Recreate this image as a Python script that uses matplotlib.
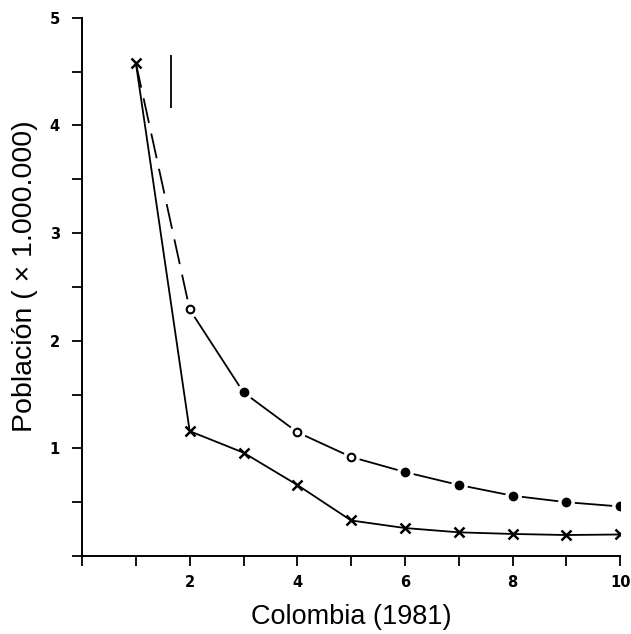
import matplotlib
matplotlib.use("Agg")
import matplotlib.pyplot as plt
from matplotlib.ticker import MultipleLocator

# Rank of the city (1..10) and population in millions
rank = [1, 2, 3, 4, 5, 6, 7, 8, 9, 10]
observed = [4.58, 1.16, 0.96, 0.66, 0.33, 0.26, 0.22, 0.205, 0.195, 0.20]
expected = [4.58, 2.29, 1.52, 1.15, 0.92, 0.78, 0.66, 0.56, 0.50, 0.46]
expected_filled = [False, False, True, False, False, True, True, True, True, True]

# Short vertical reference stroke near the top
ref_x = 1.65
ref_y = (4.16, 4.65)

x_ticklabels = {2: "2", 4: "4", 6: "6", 8: "8", 10: "10"}
y_ticklabels = {1: "1", 2: "2", 3: "3", 4: "4", 5: "5"}

fig = plt.figure(figsize=(6.31, 6.34), dpi=100)
ax = fig.add_axes([0.130, 0.123, 0.853, 0.849])

# Observed series: solid line with x markers
ax.plot(rank, observed, color="black", lw=1.3, marker="x", ms=7, mew=1.8, zorder=3)

# Expected series: first segment dashed, rest solid with gaps at the markers
ax.plot(rank[:2], expected[:2], color="black", lw=1.3, dashes=(14, 6), zorder=2)
ax.plot(rank[1:], expected[1:], color="black", lw=1.3, zorder=2)
ax.plot(rank[1:], expected[1:], ls="none", marker="o", ms=11, mfc="white", mec="white", zorder=4)
for xv, yv, filled in zip(rank[1:], expected[1:], expected_filled[1:]):
    ax.plot([xv], [yv], ls="none", marker="o", ms=5.5, mew=1.5,
            mfc="black" if filled else "white", mec="black", zorder=5)

ax.vlines(ref_x, ref_y[0], ref_y[1], color="black", lw=1.3)

ax.set_xlim(0, 10)
ax.set_ylim(0, 5)
ax.xaxis.set_major_locator(MultipleLocator(1))
ax.yaxis.set_major_locator(MultipleLocator(0.5))
ax.set_xticklabels([x_ticklabels.get(int(round(t)), "") for t in ax.get_xticks()])
ax.set_yticklabels([y_ticklabels.get(t, "") if float(t).is_integer() else ""
                    for t in ax.get_yticks()])

for side in ("top", "right"):
    ax.spines[side].set_visible(False)
for side in ("left", "bottom"):
    ax.spines[side].set_linewidth(1.4)
ax.tick_params(direction="out", length=7, width=1.3, labelsize=10.5)
ax.tick_params(axis="x", pad=7)
ax.tick_params(axis="y", pad=9)
for lab in ax.get_xticklabels() + ax.get_yticklabels():
    lab.set_fontweight("bold")

ax.set_xlabel("Colombia (1981)", fontsize=19.5, family="Liberation Sans", labelpad=10)
ax.set_ylabel("Población ( \u00d7 1.000.000)", fontsize=20.5, family="Liberation Sans")
ax.yaxis.set_label_coords(-0.081, 0.52)

fig.savefig("out.png", dpi=100)
